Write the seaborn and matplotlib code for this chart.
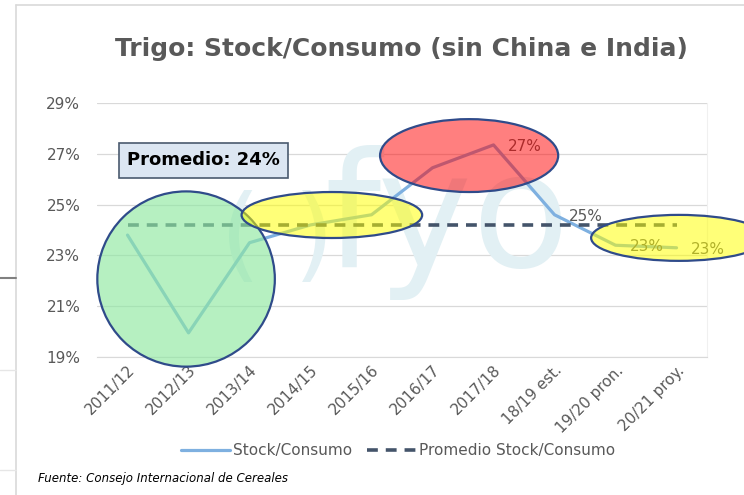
import matplotlib
matplotlib.use("Agg")
import matplotlib.pyplot as plt
import numpy as np
import pandas as pd
import seaborn as sns
from matplotlib.patches import Ellipse
from matplotlib.lines import Line2D
from matplotlib.ticker import PercentFormatter

# data
campanas = ["2011/12", "2012/13", "2013/14", "2014/15", "2015/16",
            "2016/17", "2017/18", "18/19 est.", "19/20 pron.", "20/21 proy."]
stock_consumo = [23.8, 19.95, 23.5, 24.2, 24.6, 26.45, 27.35, 24.6, 23.4, 23.3]
promedio = [24.2] * len(campanas)
etiquetas = {6: "27%", 7: "25%", 8: "23%", 9: "23%"}

# highlighted groups: (centre x, centre y, width, height, colour)
resaltes = [
    (0.96, 22.07, 2.91, 6.9, (0.56, 0.91, 0.63, 0.65)),
    (3.35, 24.59, 2.96, 1.81, (1.0, 1.0, 0.0, 0.53)),
    (5.6, 26.93, 2.92, 2.87, (1.0, 0.0, 0.0, 0.5)),
    (9.04, 23.69, 2.88, 1.81, (1.0, 1.0, 0.0, 0.53)),
]

df = pd.DataFrame({"pos": np.arange(len(campanas)),
                   "campana": campanas,
                   "Stock/Consumo": stock_consumo,
                   "Promedio Stock/Consumo": promedio})

sns.set_style("white")
plt.rcParams["font.family"] = ["DejaVu Sans"]
gris = "#595959"

fig = plt.figure(figsize=(7.44, 4.95), dpi=100)
ax = fig.add_axes([0.1304, 0.2788, 0.8199, 0.5131])

sns.lineplot(data=df, x="pos", y="Stock/Consumo", ax=ax, color="#7eb0e0",
             linewidth=2.3, label="Stock/Consumo", zorder=3)
sns.lineplot(data=df, x="pos", y="Promedio Stock/Consumo", ax=ax, color="#44546a",
             linewidth=2.6, linestyle=(0, (3, 2.2)), label="Promedio Stock/Consumo", zorder=3)

for i, txt in etiquetas.items():
    ax.annotate(txt, (i, stock_consumo[i]), xytext=(10, -1), textcoords="offset points",
                va="center", ha="left", fontsize=11, color=gris, zorder=3)

# watermark
ax.text(5.25, 24.3, "fyo", fontsize=115, color="#e2f0f4",
        ha="center", va="center", zorder=1)
ax.text(2.45, 23.6, "( )", fontsize=75, color="#e2f0f4",
        ha="center", va="center", zorder=1)

for cx, cy, w, h, fc in resaltes:
    ax.add_patch(Ellipse((cx, cy), w, h, facecolor=fc, edgecolor="#2f4b8a",
                         linewidth=1.6, zorder=5, clip_on=False))

ax.text(1.25, 26.74, "Promedio: 24%", fontsize=13, fontweight="bold", color="black",
        ha="center", va="center", zorder=6,
        bbox=dict(boxstyle="square,pad=0.45", facecolor="#dce6f2", edgecolor="#4a5a6e", linewidth=1.2))

ax.set_xlim(-0.5, 9.5)
ax.set_ylim(19, 29)
ax.set_yticks([19, 21, 23, 25, 27, 29])
ax.yaxis.set_major_formatter(PercentFormatter(decimals=0))
ax.set_xticks(df["pos"])
ax.set_xticklabels(campanas, rotation=45, ha="right", rotation_mode="anchor")
ax.tick_params(axis="both", length=0, labelsize=11, labelcolor=gris)
ax.tick_params(axis="y", pad=12)
ax.tick_params(axis="x", pad=4)
ax.set_xlabel("")
ax.set_ylabel("")
ax.grid(axis="y", color="#d9d9d9", linewidth=0.9)
for s in ["top", "left"]:
    ax.spines[s].set_visible(False)
ax.spines["bottom"].set_color("#d9d9d9")
ax.spines["right"].set_color("#f0f0f0")

leg = ax.legend(loc="center", bbox_to_anchor=(0.535, 0.089), bbox_transform=fig.transFigure,
                ncol=2, frameon=False, fontsize=11, handlelength=3.2, columnspacing=1.0,
                handletextpad=0.2)
for t in leg.get_texts():
    t.set_color(gris)

fig.text(0.539, 0.901, "Trigo: Stock/Consumo (sin China e India)", fontsize=18,
         fontweight="bold", color=gris, ha="center", va="center")
fig.text(0.051, 0.034, "Fuente: Consejo Internacional de Cereales", fontsize=8.5,
         style="italic", color="black", ha="left", va="center")

# chart frame from the screenshot
fig.add_artist(Line2D([0.0215, 0.0215], [0.0, 0.99], color="#d9d9d9", linewidth=1.2))
fig.add_artist(Line2D([0.0215, 1.0], [0.99, 0.99], color="#d9d9d9", linewidth=1.2))
fig.add_artist(Line2D([0.0, 0.0215], [0.438, 0.438], color="#808080", linewidth=1.5))
fig.add_artist(Line2D([0.0, 0.0215], [0.253, 0.253], color="#e6e6e6", linewidth=1.0))
fig.add_artist(Line2D([0.0, 0.0215], [0.05, 0.05], color="#e6e6e6", linewidth=1.0))

fig.savefig("out.png", dpi=100)
